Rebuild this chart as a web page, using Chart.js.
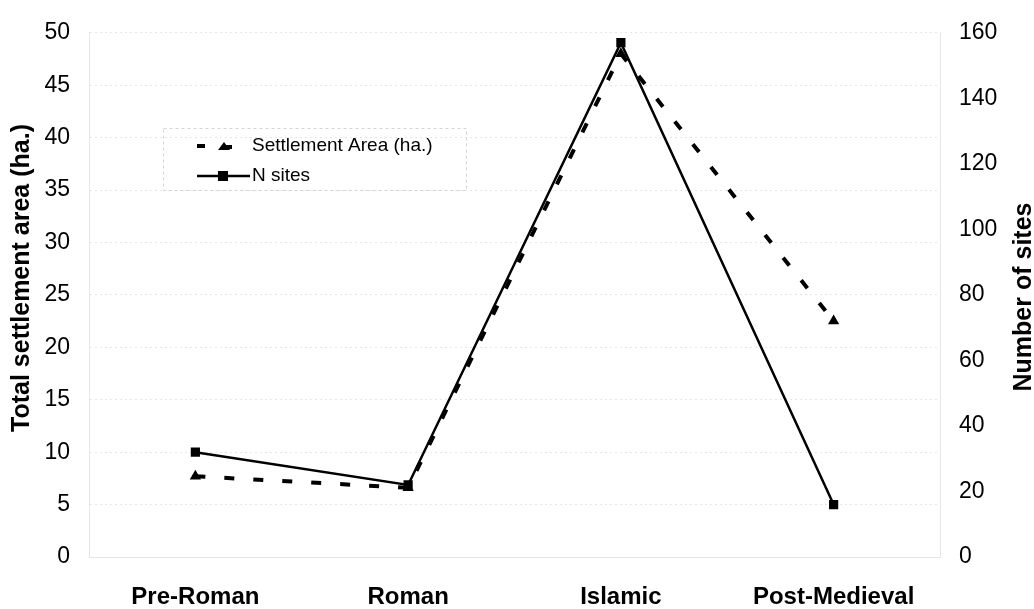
<!DOCTYPE html>
<html>
<head>
<meta charset="utf-8">
<script src="https://cdn.jsdelivr.net/npm/chart.js@4"></script>
<style>
  html, body { margin: 0; padding: 0; background: #fff; }
  #wrap { width: 1034px; height: 609px; }
</style>
</head>
<body>
<div id="wrap"><canvas id="settleChart"></canvas></div>
<script>
// Periods on the x axis
const periods = ['Pre-Roman', 'Roman', 'Islamic', 'Post-Medieval'];
// Total settlement area (ha.), left axis
const settlementArea = [7.7, 6.6, 48.0, 22.5];
// Number of sites, right axis
const nSites = [32, 22, 157, 16];

const fontFamily = '"Liberation Sans", Arial, sans-serif';
const faint = '#e6e6e6';

// Legend box inside the plot and the two axis titles
const insideLegend = {
    id: 'insideLegend',
    afterDraw(chart) {
        const c = chart.ctx;
        const ds = chart.data.datasets;
        c.save();
        c.strokeStyle = '#d4d4d4';
        c.lineWidth = 1;
        c.setLineDash([3, 3]);
        c.strokeRect(163.5, 128.5, 303, 62);
        c.setLineDash([]);

        c.font = '19px ' + fontFamily;
        c.fillStyle = '#000';
        c.textBaseline = 'middle';

        // dashed row
        let y = 146;
        c.strokeStyle = '#000';
        c.lineWidth = 4;
        c.beginPath(); c.moveTo(197, y); c.lineTo(205, y); c.stroke();
        c.beginPath();
        c.moveTo(218, y + 4); c.lineTo(224, y - 4); c.lineTo(230, y + 4); c.closePath();
        c.fill();
        c.beginPath(); c.moveTo(222, y + 1); c.lineTo(232, y + 1); c.stroke();
        c.fillText(ds[0].label, 252, y);

        // solid row
        y = 176;
        c.lineWidth = 2.5;
        c.beginPath(); c.moveTo(197, y); c.lineTo(250, y); c.stroke();
        c.fillRect(218, y - 5, 10, 10);
        c.fillText(ds[1].label, 252, y);

        // axis titles, both reading bottom to top
        c.font = 'bold 25px ' + fontFamily;
        c.textAlign = 'center';
        c.save();
        c.translate(22, 278);
        c.rotate(-Math.PI / 2);
        c.fillText('Total settlement area (ha.)', 0, 0);
        c.restore();
        c.translate(1024, 297);
        c.rotate(-Math.PI / 2);
        c.fillText('Number of sites', 0, 0);
        c.restore();
    }
};

const ctx = document.getElementById('settleChart').getContext('2d');
const settleChart = new Chart(ctx, {
    type: 'line',
    data: {
        labels: periods,
        datasets: [
            {
                label: 'Settlement Area (ha.)',
                data: settlementArea,
                yAxisID: 'y',
                borderColor: '#000',
                backgroundColor: '#000',
                borderWidth: 4,
                borderDash: [10, 19],
                pointStyle: 'triangle',
                pointRadius: 6.5,
                pointBorderWidth: 0,
                tension: 0,
                order: 2,
            },
            {
                label: 'N sites',
                data: nSites,
                yAxisID: 'y1',
                borderColor: '#000',
                backgroundColor: '#000',
                borderWidth: 2.5,
                pointStyle: 'rect',
                pointRadius: 6.5,
                pointBorderWidth: 0,
                tension: 0,
                order: 1,
            },
        ],
    },
    options: {
        responsive: true,
        maintainAspectRatio: false,
        animation: false,
        layout: { padding: { top: 24, bottom: 0, left: 0, right: 0 } },
        plugins: {
            legend: { display: false },
            tooltip: { enabled: false },
        },
        scales: {
            x: {
                offset: true,
                grid: { display: false },
                border: { color: faint, dash: [3, 3] },
                ticks: {
                    color: '#000',
                    padding: 18,
                    font: { family: fontFamily, size: 24, weight: 'bold' },
                },
                afterFit(scale) { scale.height = 52; },
            },
            y: {
                position: 'left',
                min: 0,
                max: 50,
                ticks: {
                    stepSize: 5,
                    color: '#000',
                    padding: 19,
                    font: { family: fontFamily, size: 23 },
                },
                grid: { color: faint, drawTicks: false },
                border: { color: faint, dash: [2, 3] },
                afterFit(scale) { scale.width = 89; },
            },
            y1: {
                position: 'right',
                min: 0,
                max: 160,
                ticks: {
                    stepSize: 20,
                    color: '#000',
                    padding: 19,
                    font: { family: fontFamily, size: 23 },
                },
                grid: { display: false, drawTicks: false },
                border: { color: faint, dash: [2, 3] },
                afterFit(scale) { scale.width = 94; },
            },
        },
    },
    plugins: [insideLegend],
});
</script>
</body>
</html>
